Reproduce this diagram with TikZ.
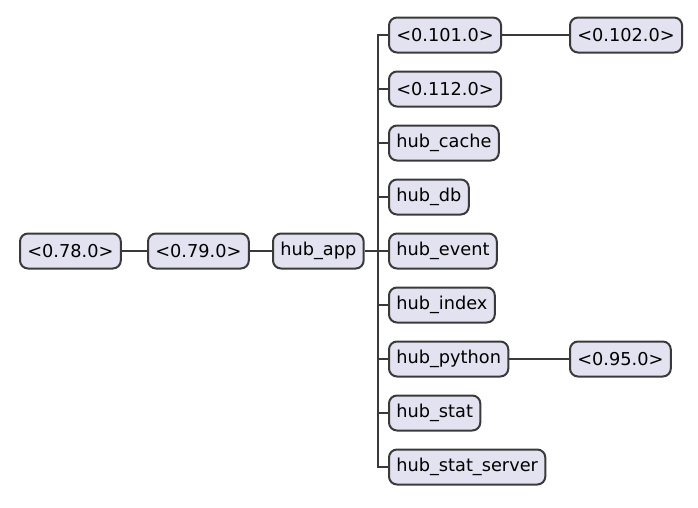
\documentclass[tikz,border=0pt]{standalone}
\usepackage{fontspec}
\setmainfont{DejaVu Sans}
\definecolor{boxfill}{HTML}{E2E2F0}
\definecolor{boxline}{HTML}{3A3A3A}
\begin{document}
\begin{tikzpicture}[x=0.75pt,y=-0.75pt,
  box/.style={draw=boxline,fill=boxfill,line width=1.5pt,rounded corners=6pt,
    minimum height=26.25pt,inner xsep=5.5pt,inner ysep=0pt,anchor=west,
    font=\fontsize{13.3}{16}\selectfont,text=black},
  conn/.style={draw=boxline,line width=1.5pt}]
\useasboundingbox (0,0) rectangle (698,507);
\node[box] (a) at (19,251) {<0.78.0>};
\node[box] (b) at (147,251) {<0.79.0>};
\node[box] (c) at (272,251) {hub\_app};
\node[box] (n1) at (388,35) {<0.101.0>};
\node[box] (n1a) at (569,35) {<0.102.0>};
\node[box] (n2) at (388,89) {<0.112.0>};
\node[box] (n3) at (388,143) {hub\_cache};
\node[box] (n4) at (388,197) {hub\_db};
\node[box] (n5) at (388,251) {hub\_event};
\node[box] (n6) at (388,305) {hub\_index};
\node[box] (n7) at (388,359) {hub\_python};
\node[box] (n7a) at (569,359) {<0.95.0>};
\node[box] (n8) at (388,413) {hub\_stat};
\node[box] (n9) at (388,467) {hub\_stat\_server};
\coordinate (t) at (378,251);
\draw[conn] (a.east) -- (b.west);
\draw[conn] (b.east) -- (c.west);
\draw[conn] (c.east) -- (t);
\foreach \n in {n1,n2,n3,n4,n5,n6,n7,n8,n9}{\draw[conn] (t) |- (\n.west);}
\draw[conn] (n1.east) -- (n1a.west);
\draw[conn] (n7.east) -- (n7a.west);
\end{tikzpicture}
\end{document}
